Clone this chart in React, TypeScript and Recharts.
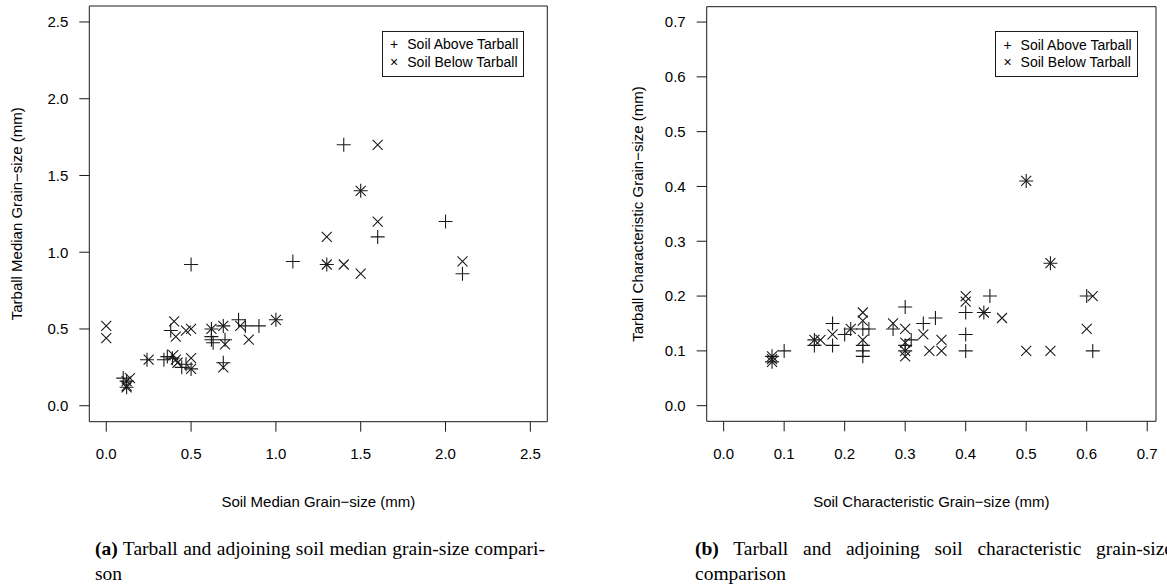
import React from 'react';
import { ScatterChart, Scatter, XAxis, YAxis, ReferenceArea } from 'recharts';

type Pt = { x: number; y: number };
const toPts = (arr: number[][]): Pt[] => arr.map(([x, y]) => ({ x, y }));

// (a) median grain size: soil (x) vs tarball (y), mm
const medianAbove: Pt[] = toPts([
  [0.10, 0.18], [0.12, 0.16], [0.12, 0.12], [0.24, 0.30], [0.34, 0.30], [0.36, 0.32], [0.39, 0.31],
  [0.38, 0.49], [0.445, 0.25], [0.47, 0.27], [0.50, 0.24], [0.50, 0.92], [0.62, 0.50], [0.62, 0.45],
  [0.62, 0.43], [0.63, 0.41], [0.69, 0.28], [0.69, 0.52], [0.70, 0.43], [0.78, 0.56], [0.82, 0.52],
  [0.90, 0.52], [1.00, 0.56], [1.10, 0.94], [1.30, 0.92], [1.40, 1.70], [1.50, 1.40], [1.60, 1.10],
  [2.00, 1.20], [2.10, 0.86],
]);
const medianBelow: Pt[] = toPts([
  [0.00, 0.52], [0.00, 0.44], [0.12, 0.12], [0.12, 0.16], [0.12, 0.13], [0.14, 0.18], [0.25, 0.30],
  [0.395, 0.33], [0.41, 0.30], [0.42, 0.28], [0.40, 0.55], [0.41, 0.45], [0.47, 0.49], [0.50, 0.50],
  [0.50, 0.31], [0.50, 0.24], [0.62, 0.50], [0.69, 0.52], [0.70, 0.40], [0.69, 0.25], [0.79, 0.52],
  [0.84, 0.43], [1.00, 0.56], [1.30, 1.10], [1.30, 0.92], [1.40, 0.92], [1.50, 1.40], [1.50, 0.86],
  [1.60, 1.70], [1.60, 1.20], [2.10, 0.94],
]);

// (b) characteristic grain size: soil (x) vs tarball (y), mm
const charAbove: Pt[] = toPts([
  [0.08, 0.09], [0.08, 0.08], [0.10, 0.10], [0.15, 0.12], [0.15, 0.11], [0.18, 0.15], [0.18, 0.11],
  [0.20, 0.13], [0.21, 0.14], [0.23, 0.14], [0.23, 0.11], [0.23, 0.10], [0.23, 0.09], [0.24, 0.14],
  [0.28, 0.14], [0.30, 0.18], [0.30, 0.10], [0.30, 0.11], [0.31, 0.12], [0.33, 0.15], [0.35, 0.16],
  [0.40, 0.17], [0.40, 0.13], [0.40, 0.10], [0.43, 0.17], [0.44, 0.20], [0.50, 0.41], [0.54, 0.26],
  [0.60, 0.20], [0.61, 0.10],
]);
const charBelow: Pt[] = toPts([
  [0.08, 0.09], [0.08, 0.08], [0.08, 0.085], [0.15, 0.12], [0.16, 0.12], [0.18, 0.13], [0.21, 0.14],
  [0.23, 0.17], [0.23, 0.155], [0.23, 0.12], [0.28, 0.15], [0.30, 0.14], [0.30, 0.115], [0.30, 0.10],
  [0.30, 0.09], [0.33, 0.13], [0.34, 0.10], [0.36, 0.10], [0.36, 0.12], [0.40, 0.20], [0.40, 0.19],
  [0.43, 0.17], [0.46, 0.16], [0.50, 0.41], [0.50, 0.10], [0.54, 0.26], [0.54, 0.10], [0.60, 0.14],
  [0.61, 0.20],
]);

const medianTicks = [0, 0.5, 1, 1.5, 2, 2.5];
const charTicks = [0, 0.1, 0.2, 0.3, 0.4, 0.5, 0.6, 0.7];

const legendLabels = ['Soil Above Tarball', 'Soil Below Tarball'];
const xTitles = ['Soil Median Grain\u2212size (mm)', 'Soil Characteristic Grain\u2212size (mm)'];
const yTitles = ['Tarball Median Grain\u2212size (mm)', 'Tarball Characteristic Grain\u2212size (mm)'];
const captionA = ['(a)', ' Tarball and adjoining soil median grain-size compari-', 'son'];
const captionB = ['(b)', ' Tarball and adjoining soil characteristic grain-size', 'comparison'];

const SANS = '"Liberation Sans", Arial, Helvetica, sans-serif';
const SERIF = '"Liberation Serif", "DejaVu Serif", serif';
const INK = '#1a1a1a';

const PlusShape = (props: any) => {
  const { cx, cy } = props;
  if (cx == null || cy == null) return null;
  return <path d={`M${cx - 7},${cy}H${cx + 7}M${cx},${cy - 7}V${cy + 7}`} stroke={INK} strokeWidth={1.1} fill="none" />;
};
const CrossShape = (props: any) => {
  const { cx, cy } = props;
  if (cx == null || cy == null) return null;
  return <path d={`M${cx - 5},${cy - 5}L${cx + 5},${cy + 5}M${cx - 5},${cy + 5}L${cx + 5},${cy - 5}`} stroke={INK} strokeWidth={1.1} fill="none" />;
};

const XTick = (props: any) => {
  const { x, y, payload } = props;
  return (
    <g>
      <line x1={x} y1={y} x2={x} y2={y + 10} stroke={INK} strokeWidth={1} />
      <text x={x} y={y + 37.3} textAnchor="middle" fontFamily={SANS} fontSize={15} fill="#000">
        {Number(payload.value).toFixed(1)}
      </text>
    </g>
  );
};
const YTick = (props: any) => {
  const { x, y, payload } = props;
  return (
    <g>
      <line x1={x - 10} y1={y} x2={x} y2={y} stroke={INK} strokeWidth={1} />
      <text x={x - 21} y={y + 5.4} textAnchor="end" fontFamily={SANS} fontSize={15} fill="#000">
        {Number(payload.value).toFixed(1)}
      </text>
    </g>
  );
};

const LegendBox = ({ left, top }: { left: number; top: number }) => (
  <div
    style={{
      position: 'absolute', left, top, width: 142.6, height: 46, boxSizing: 'border-box',
      border: `1px solid ${INK}`, background: '#fff', fontFamily: SANS, fontSize: 14, color: '#000',
    }}
  >
    {legendLabels.map((lab, i) => (
      <div key={lab} style={{ position: 'absolute', left: 0, top: 4.8 + i * 17.3, height: 17.3, lineHeight: '17.3px', whiteSpace: 'nowrap' }}>
        <span style={{ position: 'absolute', left: 5.5, width: 12, textAlign: 'center' }}>{i === 0 ? '+' : '\u00d7'}</span>
        <span style={{ position: 'absolute', left: 24.6 }}>{lab}</span>
      </div>
    ))}
  </div>
);

const Caption = ({ left, width, parts }: { left: number; width: number; parts: string[] }) => (
  <div style={{ position: 'absolute', left, top: 535.5, fontFamily: SERIF, fontSize: 19.5, lineHeight: '25px', color: '#000' }}>
    <div style={{ width, textAlign: 'justify', textAlignLast: 'justify', whiteSpace: 'normal' }}>
      <b>{parts[0]}</b>{parts[1]}
    </div>
    <div style={{ whiteSpace: 'nowrap' }}>{parts[2]}</div>
  </div>
);

type PanelProps = {
  above: Pt[]; below: Pt[]; ticks: number[]; xDomain: [number, number]; yDomain: [number, number];
  width: number; yAxisWidth: number; top: number; right: number; xAxisHeight: number;
};

const Panel = ({ above, below, ticks, xDomain, yDomain, width, yAxisWidth, top, right, xAxisHeight }: PanelProps) => (
  <ScatterChart width={width} height={586} margin={{ top, right, bottom: 0, left: 0 }}>
    <XAxis
      type="number" dataKey="x" domain={xDomain} ticks={ticks} allowDataOverflow
      axisLine={false} tickLine={false} tickSize={0} tickMargin={0} height={xAxisHeight}
      tick={<XTick />} interval={0}
    />
    <YAxis
      type="number" dataKey="y" domain={yDomain} ticks={ticks} allowDataOverflow
      axisLine={false} tickLine={false} tickSize={0} tickMargin={0} width={yAxisWidth}
      tick={<YTick />} interval={0}
    />
    <ReferenceArea x1={xDomain[0]} x2={xDomain[1]} y1={yDomain[0]} y2={yDomain[1]} fill="none" stroke={INK} strokeWidth={1} fillOpacity={0} />
    <Scatter name={legendLabels[0]} data={above} shape={<PlusShape />} isAnimationActive={false} />
    <Scatter name={legendLabels[1]} data={below} shape={<CrossShape />} isAnimationActive={false} />
  </ScatterChart>
);

export default function App() {
  return (
    <div style={{ position: 'absolute', left: 0, top: 0, width: 1167, height: 586, overflow: 'hidden', background: '#fff' }}>
      <div style={{ position: 'absolute', left: 0, top: 0 }}>
        <Panel above={medianAbove} below={medianBelow} ticks={medianTicks} xDomain={[-0.1, 2.6]} yDomain={[-0.104, 2.604]}
          width={580} yAxisWidth={89.3} top={6} right={32.7} xAxisHeight={164.3} />
      </div>
      <div style={{ position: 'absolute', left: 583, top: 0 }}>
        <Panel above={charAbove} below={charBelow} ticks={charTicks} xDomain={[-0.028, 0.7145]} yDomain={[-0.0285, 0.728]}
          width={584} yAxisWidth={123.7} top={6.7} right={11} xAxisHeight={164.7} />
      </div>
      <LegendBox left={381.7} top={30.6} />
      <LegendBox left={995} top={31.3} />
      <svg width={1167} height={586} style={{ position: 'absolute', left: 0, top: 0, pointerEvents: 'none' }}>
        <text x={318.3} y={507} textAnchor="middle" fontFamily={SANS} fontSize={15}>{xTitles[0]}</text>
        <text x={931.3} y={507} textAnchor="middle" fontFamily={SANS} fontSize={15}>{xTitles[1]}</text>
        <text transform="translate(21.5,213.8) rotate(-90)" textAnchor="middle" fontFamily={SANS} fontSize={15}>{yTitles[0]}</text>
        <text transform="translate(643,214) rotate(-90)" textAnchor="middle" fontFamily={SANS} fontSize={15}>{yTitles[1]}</text>
      </svg>
      <Caption left={95} width={450} parts={captionA} />
      <Caption left={695} width={478} parts={captionB} />
    </div>
  );
}
